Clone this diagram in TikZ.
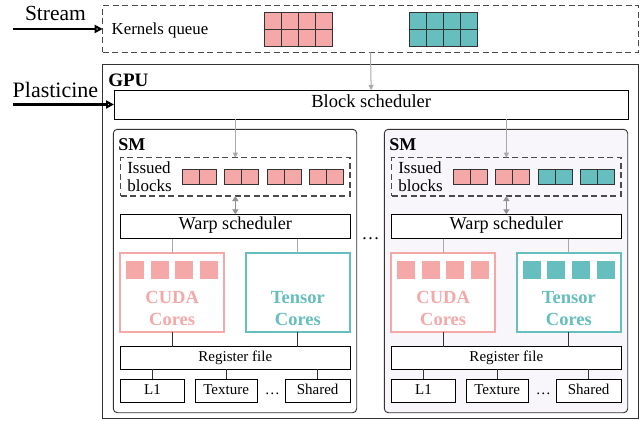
\documentclass[tikz,border=0pt]{standalone}
\usepackage{fontspec}
\setmainfont{Liberation Serif}
\usetikzlibrary{arrows.meta}
\definecolor{cpink}{HTML}{F4A9A8}
\definecolor{cteal}{HTML}{66BEBE}
\definecolor{smfill}{HTML}{F8F6FB}
\definecolor{arrowgray}{HTML}{A9A9A9}
\definecolor{dashgray}{HTML}{4A4A4A}
\definecolor{linegray}{HTML}{333333}
\newcommand{\fs}[1]{\fontsize{#1}{#1}\selectfont}

\newcommand{\smunit}[4]{%
\begin{scope}[shift={(#2,0)}]
  \node[smbox, fill=#3, minimum width=243.4pt, minimum height=283.4pt] (sm#1) at (235,271) {};
  \node[lbl, font=\bfseries\fs{18}, anchor=base west] (smt#1) at (118.3,150) {SM};
  \node[dashbox, minimum width=229.3pt, minimum height=38.3pt] (ib#1) at (235.35,176.85) {};
  \node[lbl, align=left, anchor=base west, font=\fontsize{17}{18.4}\selectfont] (ibt#1) at (127.3,191.7) {Issued\\blocks};
  \foreach \c [count=\i from 0] in {#4} {
    \draw[cell, fill=\c] ({182.7+42.2*\i},169) rectangle +(17,15.3);
    \draw[cell, fill=\c] ({199.7+42.2*\i},169) rectangle +(17,15.3);
  }
  \node[box, minimum width=229.3pt, minimum height=24.4pt, font=\fs{18.2}] (ws#1) at (235.35,226.5) {Warp scheduler};
  \node[corebox, draw=cpink, text=cpink, minimum width=104.3pt, minimum height=79.5pt] (cu#1) at (172.15,292.25) {};
  \node[lbl, align=center, anchor=base, font=\bfseries\fontsize{18.5}{21.7}\selectfont, text=cpink] (cut#1) at (172.15,325) {CUDA\\Cores};
  \foreach \i in {0,...,3} {
    \fill[cpink] ({126+24.67*\i},261) rectangle +(18,18);
  }
  \node[corebox, draw=cteal, minimum width=104.3pt, minimum height=79.5pt] (tc#1) at (297.85,292.25) {};
  \node[lbl, align=center, anchor=base, font=\bfseries\fontsize{18.5}{21.7}\selectfont, text=cteal] (tct#1) at (297.85,325) {Tensor\\Cores};
  \node[box, minimum width=229.3pt, minimum height=22.6pt, font=\fs{15}] (rf#1) at (235.35,358) {Register file};
  \node[box, minimum width=63.6pt, minimum height=23.4pt, font=\fs{15}] (l1#1) at (152.5,391) {L1};
  \node[box, minimum width=62.3pt, minimum height=23.4pt, font=\fs{15}] (tx#1) at (226.15,391) {Texture};
  \node[box, minimum width=64.7pt, minimum height=23.4pt, font=\fs{15}] (sh#1) at (317.65,391) {Shared};
  \node[lbl, anchor=base, font=\fs{15}] (dt#1) at (272.3,394.5) {…};
  % connectors
  \draw[grayarrow] (bs.south -| ib#1.north) -- (ib#1.north);
  \draw[dblarrow] (ib#1.south) -- (ws#1.north);
  \draw[thinline] (ws#1.south -| cu#1.north) -- (cu#1.north);
  \draw[thinline] (ws#1.south -| tc#1.north) -- (tc#1.north);
  \draw[darkline] (cu#1.south) -- (cu#1.south |- rf#1.north);
  \draw[darkline] (tc#1.south) -- (tc#1.south |- rf#1.north);
  \draw[darkline] (l1#1.north |- rf#1.south) -- (l1#1.north);
  \draw[darkline] (tx#1.north |- rf#1.south) -- (tx#1.north);
  \draw[darkline] (sh#1.north |- rf#1.south) -- (sh#1.north);
\end{scope}}

\begin{document}
\begin{tikzpicture}[x=1pt,y=-1pt,
  lbl/.style={inner sep=0pt, outer sep=0pt},
  box/.style={draw=black, line width=0.9pt, inner sep=0pt, outer sep=0pt, fill=white, text height=0.66em, text depth=0pt},
  smbox/.style={draw=linegray, line width=0.9pt, rounded corners=4pt, inner sep=0pt, outer sep=0pt},
  dashbox/.style={draw=dashgray, dash pattern=on 6pt off 3.5pt, line width=1.2pt, inner sep=0pt, outer sep=0pt},
  corebox/.style={line width=2pt, fill=white, inner sep=0pt, outer sep=0pt},
  cell/.style={draw=black!80, line width=0.9pt},
  grayarrow/.style={draw=arrowgray, line width=1pt, -{Triangle[length=5pt,width=5pt]}},
  dblarrow/.style={draw=arrowgray!85!black, line width=1.6pt, {Triangle[length=5pt,width=6pt]}-{Triangle[length=5pt,width=6pt]}},
  thinline/.style={draw=arrowgray, line width=0.9pt},
  darkline/.style={draw=linegray, line width=0.9pt},
  bigarrow/.style={draw=black, line width=2.2pt, -{Triangle[open,length=8pt,width=8pt]}}
]
\useasboundingbox (0,0) rectangle (644,420);

% Kernels queue
\node[dashbox, minimum width=535.6pt, minimum height=46.6pt] (kq) at (370.5,29) {};
\node[lbl, anchor=base west, font=\fs{16.8}] (kqt) at (111.7,35) {Kernels queue};
\foreach \i in {0,...,3} {
  \foreach \j in {0,1} {
    \draw[cell, fill=cpink] ({264+17*\i},{12.3+17*\j}) rectangle +(17,17);
    \draw[cell, fill=cteal] ({409.3+17*\i},{12.3+17*\j}) rectangle +(17,17);
  }
}

% GPU
\node[box, draw=linegray, minimum width=535.6pt, minimum height=354pt] (gpu) at (370.5,241) {};
\node[lbl, anchor=base west, font=\bfseries\fs{19}] (gput) at (108.3,86) {GPU};
\node[box, minimum width=514.3pt, minimum height=29pt, font=\fs{18.5}] (bs) at (371.15,104.5) {Block scheduler};
\draw[grayarrow] (kq.south) -- (bs.north);

\smunit{1}{0}{white}{cpink,cpink,cpink,cpink}
\smunit{2}{271}{smfill}{cpink,cpink,cteal,cteal}
\foreach \i in {0,...,3} {
  \fill[cteal] ({271+251.7+24.67*\i},261) rectangle +(18,18);
}
\node[lbl, anchor=base, font=\fs{18}] (mdots) at (370.5,239.5) {…};

% Stream / Plasticine
\node[lbl, anchor=base west, font=\fs{21.5}] (stream) at (25,20.7) {Stream};
\coordinate (sstart) at (12.7,29);
\draw[bigarrow] (sstart) -- (kq.west);
\node[lbl, anchor=base west, font=\fs{22}] (plast) at (12.7,97) {Plasticine};
\coordinate (pstart) at (12.7,104.5);
\draw[bigarrow] (pstart) -- (bs.west);
\end{tikzpicture}
\end{document}
